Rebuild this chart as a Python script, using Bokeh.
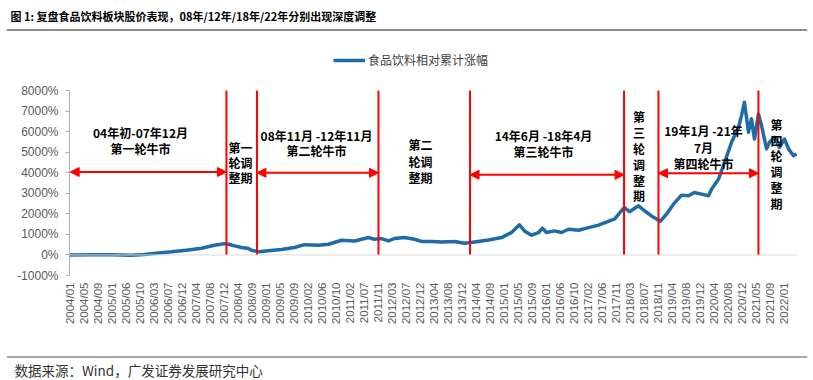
import math
from bokeh.plotting import figure
from bokeh.layouts import column
from bokeh.models import (FixedTicker, Label, Arrow, NormalHead, Span, Legend, LegendItem)
from bokeh.embed import file_html
from bokeh.resources import INLINE

# ---------------- data ----------------
x_tick_labels = [
    "2004/01", "2004/05", "2004/09", "2005/01", "2005/06", "2005/10", "2006/03", "2006/07",
    "2006/12", "2007/04", "2007/08", "2007/12", "2008/04", "2008/09", "2009/01", "2009/05",
    "2009/09", "2010/02", "2010/06", "2010/10", "2011/02", "2011/07", "2011/11", "2012/03",
    "2012/07", "2012/12", "2013/04", "2013/08", "2013/12", "2014/04", "2014/09", "2015/01",
    "2015/05", "2015/09", "2016/01", "2016/06", "2016/10", "2017/02", "2017/06", "2017/11",
    "2018/03", "2018/07", "2018/11", "2019/04", "2019/08", "2019/12", "2020/04", "2020/08",
    "2020/12", "2021/05", "2021/09", "2022/01",
]

# position along the (evenly labelled) trading-period axis, in label steps
period_idx = [
    0.0, 1.57, 3.0, 4.43, 5.36, 6.36, 7.29, 8.0, 8.5, 9.43, 10.36, 11.07, 11.36, 11.79,
    12.29, 12.79, 13.0, 13.5, 14.21, 15.14, 16.07, 16.79, 17.79, 18.5, 19.43, 20.36,
    21.36, 21.79, 22.29, 22.79, 23.21, 23.93, 24.64, 25.14, 25.86, 26.57, 27.5, 28.21,
    28.93, 29.93, 30.86, 31.57, 32.14, 32.5, 33.0, 33.5, 33.79, 34.07, 34.64, 35.14,
    35.64, 36.36, 37.07, 37.79, 38.71, 38.93, 39.43, 39.64, 40.0, 40.64, 41.07, 41.57,
    41.93, 42.21, 42.64, 43.14, 43.71, 44.21, 44.64, 45.14, 45.64, 45.86, 46.36, 46.79,
    47.29, 47.79, 48.0, 48.21, 48.5, 48.71, 48.93, 49.21, 49.43, 49.79, 50.0, 50.36,
    50.71, 51.07, 51.36, 51.71, 51.93,
]
# 食品饮料相对累计涨幅 (%)
rel_return_pct = [
    0, 15, 5, -10, 20, 100, 150, 200, 240, 325, 470, 550, 520, 440,
    360, 310, 230, 150, 200, 260, 360, 500, 470, 520, 715, 680,
    845, 765, 795, 680, 800, 845, 765, 660, 650, 635, 650, 570,
    635, 730, 845, 1090, 1465, 1170, 960, 1090, 1300, 1090, 1170, 1090,
    1250, 1200, 1330, 1450, 1690, 1740, 2150, 2310, 2100, 2390, 2150, 1900,
    1750, 1640, 1985, 2470, 2910, 2880, 3040, 2960, 2880, 3200, 3690, 4500,
    5480, 6210, 6780, 7430, 5970, 6620, 5640, 6860, 6290, 5160, 5480, 5720,
    5230, 5640, 5160, 4830, 4910,
]

# boundaries between bull / adjustment phases (same axis units)
phase_bounds = [11.21, 13.39, 22.07, 28.61, 39.61, 42.07, 49.21]

y_ticks = [-1000, 0, 1000, 2000, 3000, 4000, 5000, 6000, 7000, 8000]

TITLE = "图 1: 复盘食品饮料板块股价表现，08年/12年/18年/22年分别出现深度调整"
SOURCE = "数据来源：Wind，广发证券发展研究中心"
SERIES_NAME = "食品饮料相对累计涨幅"

CJK = "Noto Sans CJK SC"
W = 813

# ---------------- header (title + rule) ----------------
HEAD_H = 35
head = figure(width=W, height=HEAD_H, x_range=(6, 807), y_range=(HEAD_H, 0),
              output_backend="svg", toolbar_location=None,
              min_border_left=6, min_border_right=6, min_border_top=0, min_border_bottom=0)
head.frame_align = False
head.axis.visible = False
head.grid.visible = False
head.outline_line_color = None
head.add_layout(Label(x=10, y=15.5, text=TITLE, text_align="left", text_baseline="middle",
                      text_font=CJK, text_font_size="11px", text_font_style="bold",
                      text_color="black"))
head.add_layout(Span(location=29.5, dimension="width", line_color="#8c8c8c", line_width=2))

# ---------------- main chart ----------------
MAIN_TOP = HEAD_H          # reference y where main figure starts
MAIN_H = 315
FRAME_TOP_REF, FRAME_BOT_REF = 50, 275
FRAME_H = FRAME_BOT_REF - FRAME_TOP_REF
FRAME_L_REF, FRAME_W = 69, 728
PPV = 185 / 9000.0         # pixels per percent
Y0 = -1000
Y1 = Y0 + FRAME_H / PPV
X0 = 0.0
X1 = X0 + FRAME_W / 14.0


def rx(px):  # reference pixel -> x data
    return X0 + (px - FRAME_L_REF) / 14.0


def ry(py):  # reference pixel -> y data
    return Y0 + (FRAME_BOT_REF - py) / PPV


p = figure(width=W, height=MAIN_H, x_range=(X0, X1), y_range=(Y0, Y1),
           output_backend="svg", toolbar_location=None,
           min_border_left=FRAME_L_REF, min_border_right=W - FRAME_L_REF - FRAME_W,
           min_border_top=FRAME_TOP_REF - MAIN_TOP,
           min_border_bottom=MAIN_H - (FRAME_BOT_REF - MAIN_TOP))
p.frame_align = False
p.outline_line_color = None
p.xgrid.visible = False
p.ygrid.visible = False

xa = p.xaxis[0]
xa.ticker = FixedTicker(ticks=list(range(len(x_tick_labels))))
xa.major_label_overrides = {i: lab for i, lab in enumerate(x_tick_labels)}
xa.major_label_orientation = math.pi / 2
xa.axis_line_color = None
xa.major_tick_line_color = None
xa.minor_tick_line_color = None
xa.major_tick_out = 0
xa.major_tick_in = 0
xa.major_label_standoff = 7
xa.major_label_text_font = "Liberation Sans"
xa.major_label_text_font_size = "11.5px"
xa.major_label_text_color = "#595959"

ya = p.yaxis[0]
ya.bounds = (-1000, 8000)
ya.ticker = FixedTicker(ticks=y_ticks)
ya.major_label_overrides = {t: f"{t}%" for t in y_ticks}
ya.axis_line_color = "#b3b3b3"
ya.major_tick_line_color = "#b3b3b3"
ya.minor_tick_line_color = None
ya.major_tick_out = 4
ya.major_tick_in = 0
ya.major_label_standoff = 7
ya.major_label_text_font = "Liberation Sans"
ya.major_label_text_font_size = "12px"
ya.major_label_text_color = "#595959"

p.add_layout(Span(location=0, dimension="width", line_color="#d9d9d9", line_width=1))

r = p.line(period_idx, rel_return_pct, line_color="#1f6ba5", line_width=3.5,
           line_join="round")

p.segment(x0=phase_bounds, y0=[0] * len(phase_bounds), x1=phase_bounds,
          y1=[8000] * len(phase_bounds), line_color="#ff0000", line_width=2)


def head_shape():
    return NormalHead(size=9, fill_color="#ff0000", line_color="#ff0000", line_width=1)


arrow_spans = [(X0 + 0.05, phase_bounds[0], 171.5), (phase_bounds[1], phase_bounds[2], 172.3),
               (phase_bounds[3], phase_bounds[4], 174.3), (phase_bounds[5], phase_bounds[6], 172.7)]
for a, b, py in arrow_spans:
    p.add_layout(Arrow(start=head_shape(), end=head_shape(), x_start=a, x_end=b,
                       y_start=ry(py), y_end=ry(py), line_color="#ff0000", line_width=2))


def ann(text, px, py, size="12px"):
    p.add_layout(Label(x=rx(px), y=ry(py), text=text, text_align="center",
                       text_baseline="middle", text_font=CJK, text_font_size=size,
                       text_font_style="bold", text_color="black"))


ann("04年初-07年12月", 140, 132)
ann("第一轮牛市", 140, 148)
for t, yy in zip(["第一", "轮调", "整期"], [147, 162, 177]):
    ann(t, 240, yy)
ann("08年11月 -12年11月", 316, 135)
ann("第二轮牛市", 316, 150)
for t, yy in zip(["第二", "轮调", "整期"], [144, 161, 177]):
    ann(t, 420, yy)
ann("14年6月 -18年4月", 543, 135)
ann("第三轮牛市", 543, 151)
for t, yy in zip("第三轮调整期", [116, 132, 148, 164, 180, 195]):
    ann(t, 638.5, yy)
ann("19年1月 -21年", 703, 130)
ann("7月", 703, 147)
ann("第四轮牛市", 703, 163)
for t, yy in zip("第四轮调整期", [124, 140, 155, 171, 187, 203]):
    ann(t, 776, yy)

legend = Legend(items=[LegendItem(label=SERIES_NAME, renderers=[r])],
                location=(333 - FRAME_L_REF, FRAME_BOT_REF - 68), orientation="horizontal",
                glyph_width=32, glyph_height=14, label_height=14, label_standoff=3,
                padding=0, margin=0, border_line_color=None, background_fill_alpha=0,
                label_text_font=CJK, label_text_font_size="12px",
                label_text_color="#404040")
p.add_layout(legend)

# ---------------- footer ----------------
FOOT_H = 380 - HEAD_H - MAIN_H
FOOT_TOP = HEAD_H + MAIN_H
foot = figure(width=W, height=FOOT_H, x_range=(6, 807), y_range=(FOOT_TOP + FOOT_H, FOOT_TOP),
              output_backend="svg", toolbar_location=None,
              min_border_left=6, min_border_right=6, min_border_top=0, min_border_bottom=0)
foot.frame_align = False
foot.axis.visible = False
foot.grid.visible = False
foot.outline_line_color = None
foot.add_layout(Span(location=356.5, dimension="width", line_color="#8c8c8c", line_width=1.5))
foot.add_layout(Label(x=14, y=369, text=SOURCE, text_align="left", text_baseline="middle",
                      text_font=CJK, text_font_size="13.5px", text_color="#333333"))

layout = column(head, p, foot, spacing=0)
open("out.html", "w").write(file_html(layout, INLINE))
